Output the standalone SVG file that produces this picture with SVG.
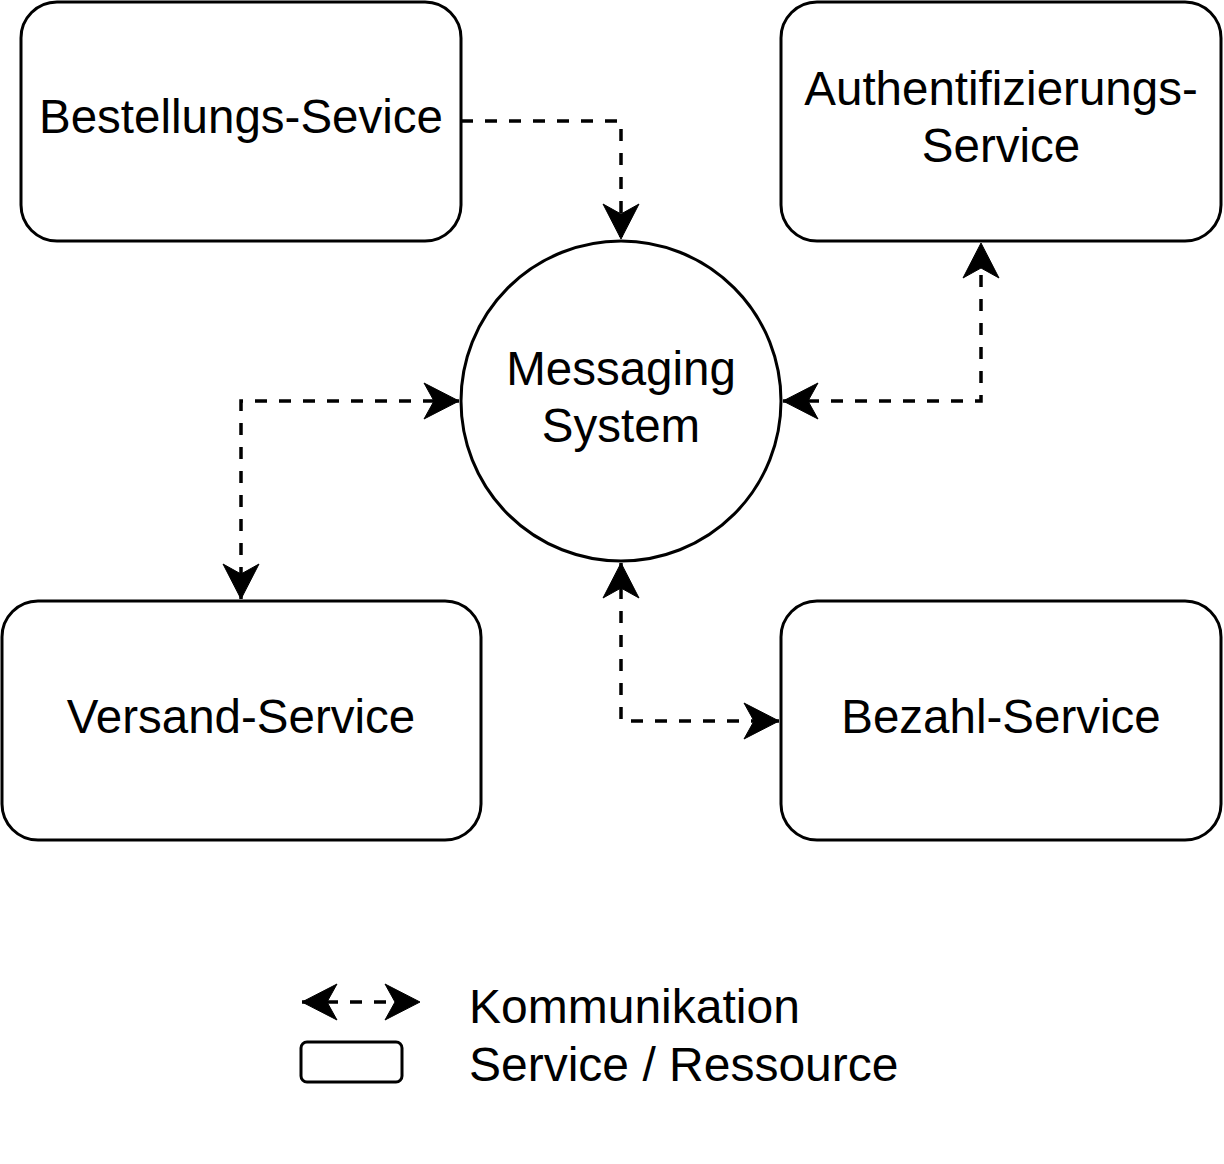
<svg xmlns="http://www.w3.org/2000/svg" width="1224" height="1164" viewBox="0 0 1224 1164">
<style>
.node{fill:#fff;stroke:#000;stroke-width:3}
.lbl{font-family:"Liberation Sans",Arial,sans-serif;font-size:47.5px;fill:#000;text-anchor:middle}
.leg{font-family:"Liberation Sans",Arial,sans-serif;font-size:48px;fill:#000}
.edge{fill:none;stroke:#000;stroke-width:3.5;stroke-dasharray:12 12}
</style>
<defs>
<marker id="ah" markerUnits="userSpaceOnUse" markerWidth="40" markerHeight="40" viewBox="-36 -20 38 40" refX="0" refY="0" orient="auto-start-reverse">
<path d="M0,0 L-35,-18 L-25,0 L-35,18 Z" fill="#000" stroke="#000" stroke-width="1"/>
</marker>
</defs>
<rect width="1224" height="1164" fill="#fff"/>
<g id="connectors">
<path class="edge" d="M461,121 H621 V239" marker-end="url(#ah)"/>
<path class="edge" d="M783,401 H981 V243" marker-start="url(#ah)" marker-end="url(#ah)"/>
<path class="edge" d="M459,401 H241 V599" marker-start="url(#ah)" marker-end="url(#ah)"/>
<path class="edge" d="M621,563 V721 H779" marker-start="url(#ah)" marker-end="url(#ah)"/>
</g>
<g id="bestellungs-service">
<rect class="node" x="21" y="2" width="440" height="239" rx="36"/>
<text class="lbl" x="241" y="133">Bestellungs-Sevice</text>
</g>
<g id="auth-service">
<rect class="node" x="781" y="2" width="440" height="239" rx="36"/>
<text class="lbl" x="1001" y="105">Authentifizierungs-</text>
<text class="lbl" x="1001" y="162">Service</text>
</g>
<g id="messaging-system">
<circle class="node" cx="621" cy="401" r="160"/>
<text class="lbl" x="621" y="385">Messaging</text>
<text class="lbl" x="621" y="442">System</text>
</g>
<g id="versand-service">
<rect class="node" x="2" y="601" width="479" height="239" rx="36"/>
<text class="lbl" x="241" y="733">Versand-Service</text>
</g>
<g id="bezahl-service">
<rect class="node" x="781" y="601" width="440" height="239" rx="36"/>
<text class="lbl" x="1001" y="733">Bezahl-Service</text>
</g>
<g id="legend">
<path class="edge" d="M302,1002 H420" marker-start="url(#ah)" marker-end="url(#ah)"/>
<rect class="node" x="301" y="1042" width="101" height="40" rx="6"/>
<text class="leg" x="469" y="1023">Kommunikation</text>
<text class="leg" x="469" y="1081">Service / Ressource</text>
</g>
</svg>
